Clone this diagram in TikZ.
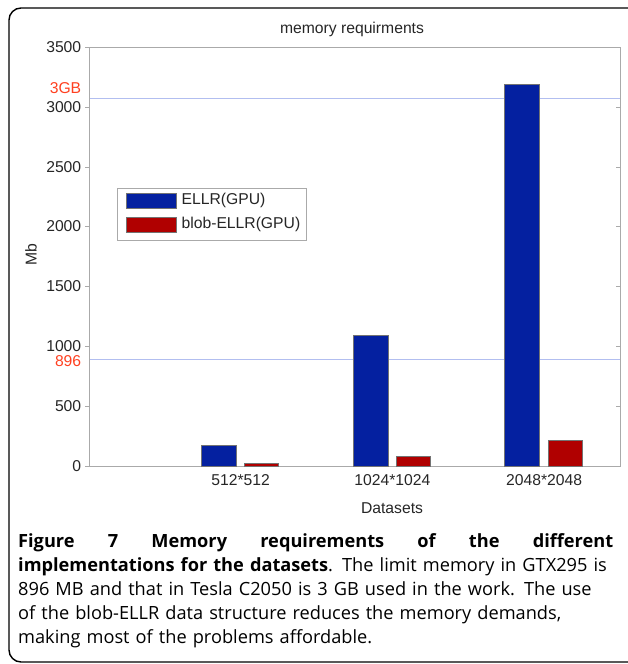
\documentclass[tikz,border=0pt]{standalone}
\usepackage{fontspec}
\setmainfont{Open Sans}
\newfontfamily\plotfont{Liberation Sans}
\usetikzlibrary{positioning}
\definecolor{barblue}{RGB}{4,32,160}
\definecolor{barred}{RGB}{176,0,0}
\definecolor{limitred}{RGB}{255,64,32}
\definecolor{gridblue}{RGB}{178,190,240}
\definecolor{axisgrey}{RGB}{170,170,170}

\begin{document}
\begin{tikzpicture}[x=1pt,y=-1pt,
        plottext/.style = {font=\plotfont\fontsize{15.7}{18}\selectfont, text=black!85, inner sep=0pt},
        ytick/.style = {plottext, anchor=east},
        limit/.style = {plottext, anchor=east, text=limitred},
        bar/.style = {draw=black!55, line width=0.4pt},
        swatch/.style = {bar, minimum width=50pt, minimum height=15pt, inner sep=0pt, anchor=north west}]
    \useasboundingbox (0,0) rectangle (627,664);
    \draw[line width=1.4pt, rounded corners=12pt] (9,8) rectangle (680,662);
    \node[plottext] (title) at (352,29) {memory requirments};
    \node[plottext, rotate=90] (ylabel) at (31,255) {Mb};
    \node[plottext] (xlabel) at (392,508) {Datasets};
    \begin{scope}[shift={(89,466)}, x=151.7pt, y=0.1197pt]
        \draw[gridblue] (0,896) -- (3.5,896);
        \draw[gridblue] (0,3072) -- (3.5,3072);
        \draw[axisgrey] (0,0) rectangle (3.5,3500);
        \foreach \v in {0,500,...,3500} {
            \draw[axisgrey] (0,\v) -- ++(-4pt,0);
            \draw[axisgrey] (3.5,\v) -- ++(-4pt,0);
            \node[ytick] (tick\v) at (-0.05,\v) {\v};
        }
        \node[limit] (gb) at (-0.05,3158) {3GB};
        \node[limit] (mb) at (-0.05,877) {896};
        \foreach \c/\b/\r/\name in {1/175/22/512*512, 2/1090/78/1024*1024, 3/3190/214/2048*2048} {
            \draw[bar, fill=barblue] (\c-0.26,0) rectangle (\c-0.03,\b);
            \draw[bar, fill=barred] (\c+0.025,0) rectangle (\c+0.25,\r);
            \node[plottext, anchor=north, yshift=-8pt] (cat\c) at (\c,0) {\name};
        }
    \end{scope}
    \node[draw=axisgrey, fill=white, minimum width=189pt, minimum height=52pt,
        inner sep=0pt, anchor=north west] (legend) at (117,188) {};
    \node[swatch, fill=barblue] (swblue) at (126,193) {};
    \node[swatch, fill=barred] (swred) at (126,217) {};
    \node[plottext, right=5pt of swblue] (lblue) {ELLR(GPU)};
    \node[plottext, right=5pt of swred] (lred) {blob-ELLR(GPU)};
    \node[anchor=north west, text width=595pt, align=left, inner sep=0pt,
        font=\fontsize{18.2}{24.2}\selectfont] (caption) at (18,533) {%
        \textbf{Figure\hfill 7\hfill Memory\hfill requirements\hfill of\hfill the\hfill different}\\
        \makebox[\linewidth][s]{\textbf{implementations for the datasets}. The limit memory in GTX295 is}\\
        896 MB and that in Tesla C2050 is 3 GB used in the work. The use\\
        of the blob-ELLR data structure reduces the memory demands,\\
        making most of the problems affordable.};
\end{tikzpicture}
\end{document}
